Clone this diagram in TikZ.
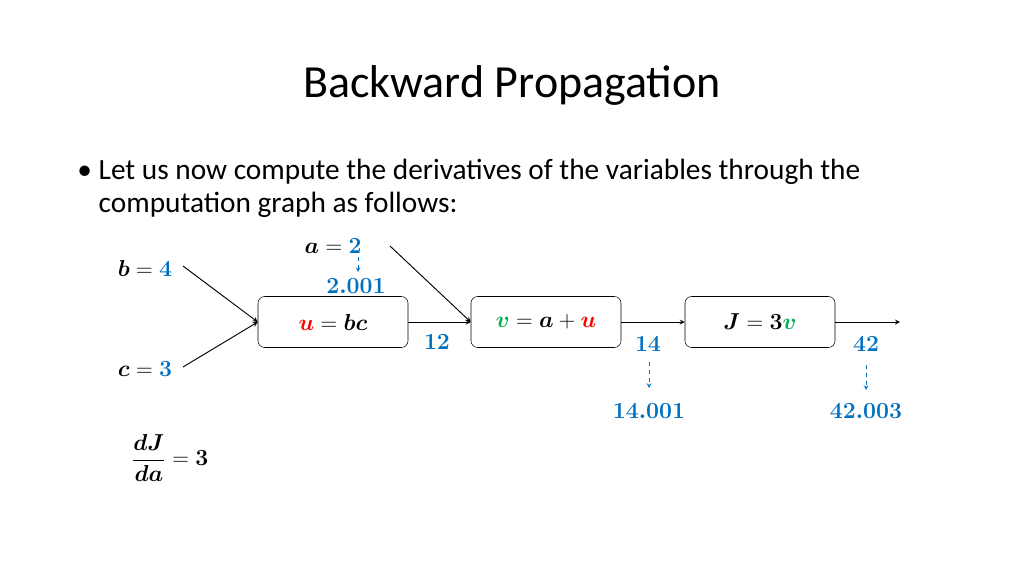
\documentclass[tikz,border=0pt]{standalone}
\usepackage{amsmath,bm}
\usepackage{fontspec}
\setmainfont{Carlito}
\definecolor{mblue}{RGB}{0,112,192}
\definecolor{mred}{RGB}{255,0,0}
\definecolor{mgreen}{RGB}{0,176,80}
\newcommand{\B}[1]{\boldsymbol{#1}}
\newcommand{\CB}[2]{{\color{#1}\boldsymbol{#2}}}
\begin{document}
\begin{tikzpicture}[x=0.75pt,y=-0.75pt,
  opbox/.style={draw,rounded corners=5pt,minimum width=150*0.75pt,minimum height=51*0.75pt,inner sep=0pt,font=\fontsize{17}{19}\selectfont},
  lbl/.style={inner sep=1pt,font=\fontsize{17}{19}\selectfont},
  conn/.style={-stealth,line width=0.7pt},
  dasharrow/.style={-stealth,dashed,mblue,line width=0.6pt}]
\useasboundingbox (0,0) rectangle (1024,576);
\node[font=\fontsize{34.5}{40}\selectfont] (title) at (512,85) {Backward Propagation};
\node[anchor=west,font=\fontsize{22}{25}\selectfont,align=left] (bullet) at (94,188)
 {\llap{\textbullet\ }Let us now compute the derivatives of the variables through the\\computation graph as follows:};
\node[opbox] (u) at (333,322) {$\CB{mred}{u}=\B{bc}$};
\node[opbox] (v) at (546,322) {$\CB{mgreen}{v}=\B{a}+\CB{mred}{u}$};
\node[opbox] (J) at (760,322) {$\B{J}=\B{3}\CB{mgreen}{v}$};
\coordinate (out) at (900,322);
\node[lbl] (b) at (145,268) {$\B{b}=\CB{mblue}{4}$};
\node[lbl] (c) at (145,369) {$\B{c}=\CB{mblue}{3}$};
\node[lbl] (a) at (333,246) {$\B{a}=\CB{mblue}{2}$};
\coordinate (bend) at (183,266);
\coordinate (cend) at (183,367);
\coordinate (aend) at (390,246);
\draw[conn] (bend) -- (u.west);
\draw[conn] (cend) -- (u.west);
\draw[conn] (aend) -- (v.west);
\draw[conn] (u.east) -- (v.west);
\draw[conn] (v.east) -- (J.west);
\draw[conn] (J.east) -- (out);
\node[lbl,text=mblue] (a2) at (356,286) {$\B{2.001}$};
\node[lbl,text=mblue] (n12) at (437,342) {$\B{12}$};
\node[lbl,text=mblue] (n14) at (648,344) {$\B{14}$};
\node[lbl,text=mblue] (n42) at (866,344) {$\B{42}$};
\node[lbl,text=mblue] (n14b) at (649,411) {$\B{14.001}$};
\node[lbl,text=mblue] (n42b) at (866,411) {$\B{42.003}$};
\draw[dasharrow] (358,257) -- (358,272);
\draw[dasharrow] (649,362) -- (649,388);
\draw[dasharrow] (866,365) -- (866,390);
\node[lbl] (dj) at (170,458) {$\dfrac{\B{dJ}}{\B{da}}=\B{3}$};
\end{tikzpicture}
\end{document}
